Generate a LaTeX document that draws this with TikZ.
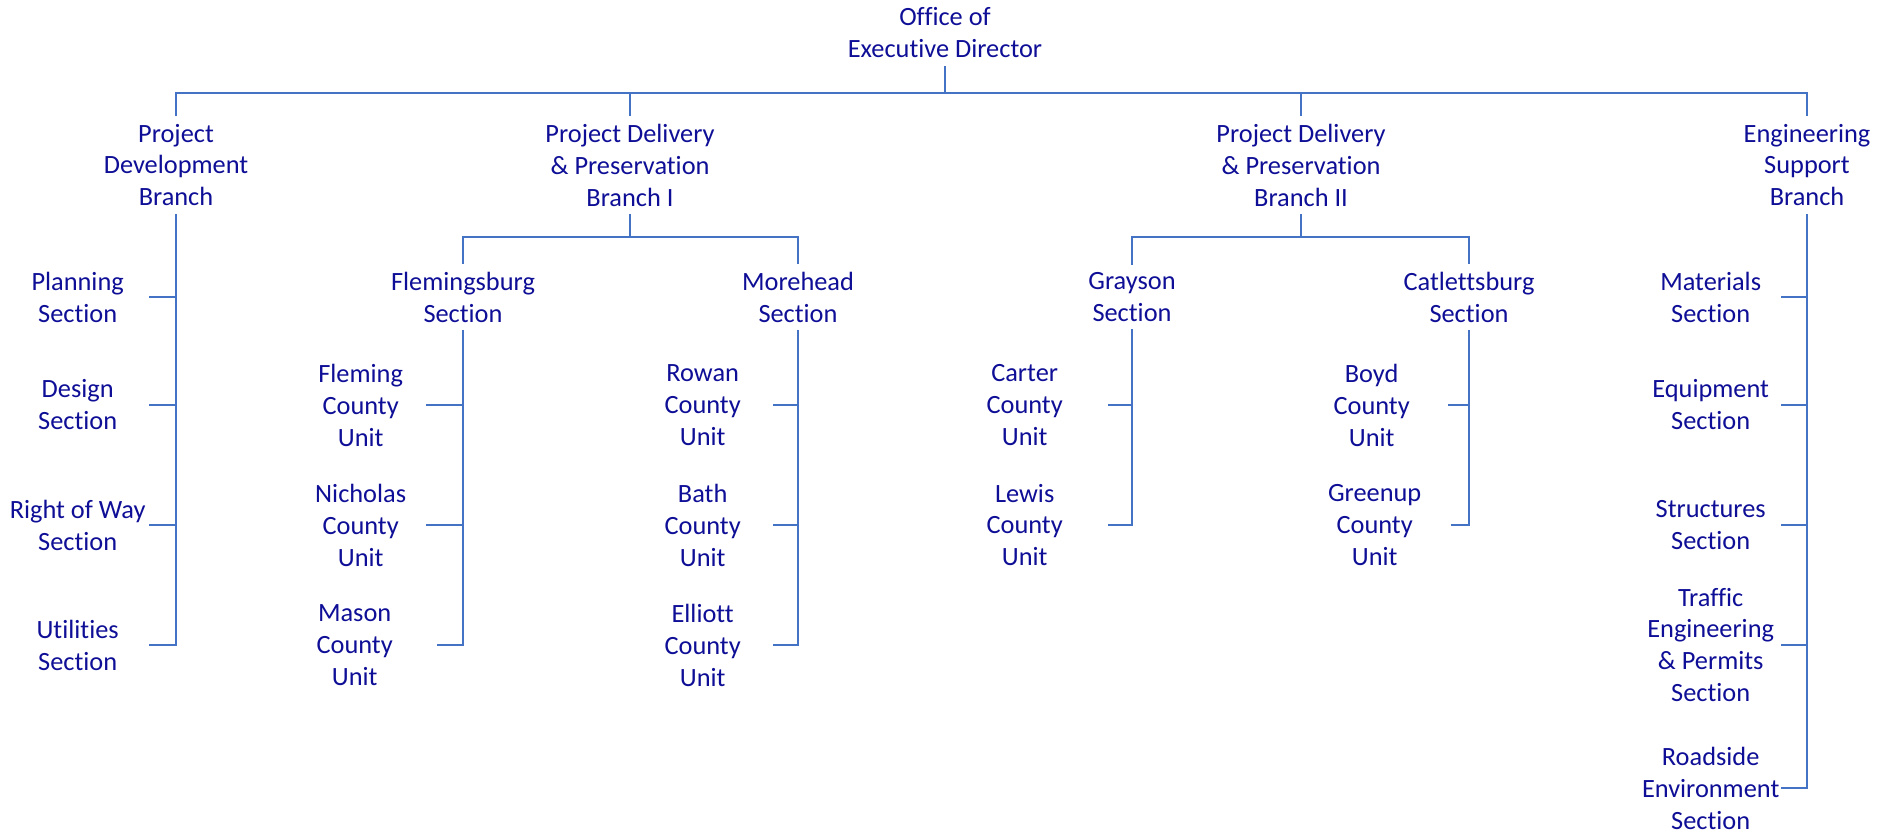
\documentclass[tikz,border=0pt]{standalone}
\usepackage{fontspec}
\setmainfont{Carlito}[Ligatures=NoCommon]
\usepackage{tikz}
\definecolor{orgtext}{RGB}{14,14,150}
\definecolor{orgline}{RGB}{68,114,196}

\begin{document}
\begin{tikzpicture}[line cap=rect,line join=miter,x=0.02cm,y=-0.02cm,
  conn/.style={draw=orgline,line width=1.1pt},
  head/.style={align=center,text=orgtext,inner sep=0.16cm,font=\fontsize{15}{18.2}\selectfont},
  unit/.style={head,anchor=east,minimum width=#1,inner xsep=0pt}]
\useasboundingbox (0,0) rectangle (1893,833);
\coordinate (bar) at (0,93);
\coordinate (sub) at (0,237);
\node[head] (ed) at (945,33) {Office of\\Executive Director};
\node[head] (pdb) at (176,165) {Project\\Development\\Branch};
\node[head] (br1) at (630,165) {Project Delivery\\\& Preservation\\Branch I};
\node[head] (br2) at (1301,165) {Project Delivery\\\& Preservation\\Branch II};
\node[head] (esb) at (1807,165) {Engineering\\Support\\Branch};
\node[head] (flm) at (463,297) {Flemingsburg\\Section};
\node[head] (mor) at (798,297) {Morehead\\Section};
\node[head] (gry) at (1132,297) {Grayson\\Section};
\node[head] (cat) at (1469,297) {Catlettsburg\\Section};
\node[unit=2.88cm] (pln) at (150,297) {Planning\\Section};
\node[unit=2.88cm] (dsn) at (150,405) {Design\\Section};
\node[unit=2.88cm] (row) at (150,525) {Right of Way\\Section};
\node[unit=2.88cm] (utl) at (150,645) {Utilities\\Section};
\node[unit=2.64cm] (fle) at (427,405) {Fleming\\County\\Unit};
\node[unit=2.64cm] (nic) at (427,525) {Nicholas\\County\\Unit};
\node[unit=3.32cm] (mas) at (438,645) {Mason\\County\\Unit};
\node[unit=2.84cm] (rwn) at (774,405) {Rowan\\County\\Unit};
\node[unit=2.84cm] (bth) at (774,525) {Bath\\County\\Unit};
\node[unit=2.84cm] (ell) at (774,645) {Elliott\\County\\Unit};
\node[unit=3.36cm] (car) at (1109,405) {Carter\\County\\Unit};
\node[unit=3.36cm] (lew) at (1109,525) {Lewis\\County\\Unit};
\node[unit=3.08cm] (byd) at (1449,405) {Boyd\\County\\Unit};
\node[unit=3.08cm] (grn) at (1452,525) {Greenup\\County\\Unit};
\node[unit=2.84cm] (mat) at (1782,297) {Materials\\Section};
\node[unit=2.84cm] (eqp) at (1782,405) {Equipment\\Section};
\node[unit=2.84cm] (str) at (1782,525) {Structures\\Section};
\node[unit=2.84cm] (trf) at (1782,645) {Traffic\\Engineering\\\& Permits\\Section};
\node[unit=2.84cm] (rds) at (1782,788) {Roadside\\Environment\\Section};
\draw[conn] (ed.south) -- (ed.south |- bar);
\draw[conn] (pdb.north) -- (pdb.north |- bar) -- (esb.north |- bar) -- (esb.north);
\draw[conn] (br1.north) -- (br1.north |- bar);
\draw[conn] (br2.north) -- (br2.north |- bar);
\draw[conn] (br1.south) -- (br1.south |- sub);
\draw[conn] (flm.north) -- (flm.north |- sub) -- (mor.north |- sub) -- (mor.north);
\draw[conn] (br2.south) -- (br2.south |- sub);
\draw[conn] (gry.north) -- (gry.north |- sub) -- (cat.north |- sub) -- (cat.north);
\draw[conn] (pdb.south) |- (utl.east);
\draw[conn] (pln.east) -- (pln.east -| pdb.south);
\draw[conn] (dsn.east) -- (dsn.east -| pdb.south);
\draw[conn] (row.east) -- (row.east -| pdb.south);
\draw[conn] (flm.south) |- (mas.east);
\draw[conn] (fle.east) -- (fle.east -| flm.south);
\draw[conn] (nic.east) -- (nic.east -| flm.south);
\draw[conn] (mor.south) |- (ell.east);
\draw[conn] (rwn.east) -- (rwn.east -| mor.south);
\draw[conn] (bth.east) -- (bth.east -| mor.south);
\draw[conn] (gry.south) |- (lew.east);
\draw[conn] (car.east) -- (car.east -| gry.south);
\draw[conn] (cat.south) |- (grn.east);
\draw[conn] (byd.east) -- (byd.east -| cat.south);
\draw[conn] (esb.south) |- (rds.east);
\draw[conn] (mat.east) -- (mat.east -| esb.south);
\draw[conn] (eqp.east) -- (eqp.east -| esb.south);
\draw[conn] (str.east) -- (str.east -| esb.south);
\draw[conn] (trf.east) -- (trf.east -| esb.south);
\end{tikzpicture}
\end{document}
